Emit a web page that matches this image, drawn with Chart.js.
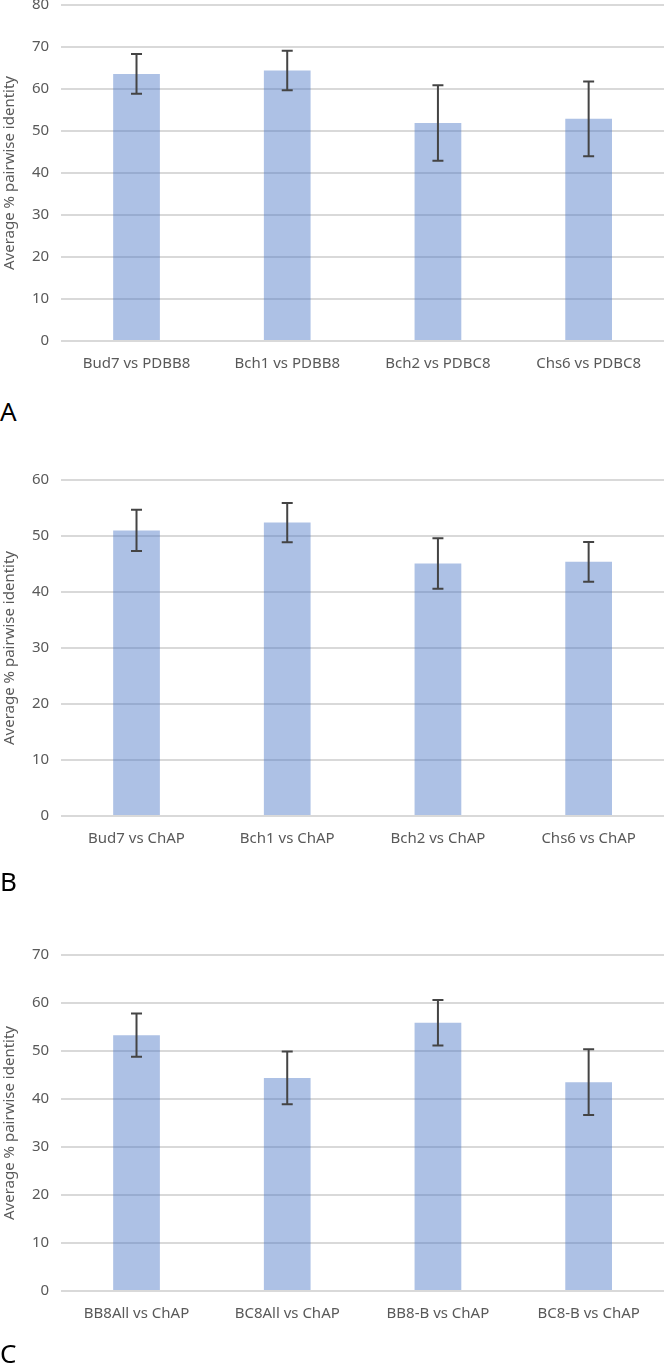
<!DOCTYPE html>
<html>
<head>
<meta charset="utf-8">
<script src="https://cdn.jsdelivr.net/npm/chart.js@4"></script>
<style>
  html, body { margin: 0; padding: 0; background: #fff; }
  body { width: 664px; height: 1365px; position: relative; overflow: hidden; font-family: "Noto Sans", sans-serif; }
  .panel { position: absolute; left: 0; width: 664px; }
  .letter { position: absolute; left: 0; font-size: 26px; line-height: 1; color: #000; }
</style>
</head>
<body>
<div class="panel" style="top:-16px;height:395px"><canvas id="chartA"></canvas></div>
<div class="panel" style="top:459px;height:395px"><canvas id="chartB"></canvas></div>
<div class="panel" style="top:934px;height:395px"><canvas id="chartC"></canvas></div>
<div class="letter" style="top:398px">A</div>
<div class="letter" style="top:868px">B</div>
<div class="letter" style="top:1340px">C</div>
<script>
// panel A
const labelsA = ['Bud7 vs PDBB8', 'Bch1 vs PDBB8', 'Bch2 vs PDBC8', 'Chs6 vs PDBC8']
const valuesA = [63.6, 64.4, 51.9, 52.9]
const errorsA = [4.75, 4.7, 9.0, 8.9]
const yMaxA = 80

// panel B
const labelsB = ['Bud7 vs ChAP', 'Bch1 vs ChAP', 'Bch2 vs ChAP', 'Chs6 vs ChAP']
const valuesB = [51.0, 52.4, 45.1, 45.4]
const errorsB = [3.7, 3.5, 4.5, 3.55]
const yMaxB = 60

// panel C
const labelsC = ['BB8All vs ChAP', 'BC8All vs ChAP', 'BB8-B vs ChAP', 'BC8-B vs ChAP']
const valuesC = [53.3, 44.4, 55.9, 43.5]
const errorsC = [4.5, 5.5, 4.75, 6.85]
const yMaxC = 70

const yTitle = 'Average % pairwise identity'

// draws +/- error whiskers on top of each bar
const errorBars = {
  id: 'errorBars',
  afterDatasetsDraw(chart) {
    const ctx = chart.ctx
    const yScale = chart.scales.y
    const errs = chart.data.datasets[0].errors
    const vals = chart.data.datasets[0].data
    const meta = chart.getDatasetMeta(0)
    ctx.save()
    ctx.strokeStyle = '#444444'
    ctx.lineWidth = 2
    meta.data.forEach(function (bar, i) {
      const top = yScale.getPixelForValue(vals[i] + errs[i])
      const bot = yScale.getPixelForValue(vals[i] - errs[i])
      const x = bar.x
      ctx.beginPath()
      ctx.moveTo(x, top); ctx.lineTo(x, bot)
      ctx.moveTo(x - 5.5, top); ctx.lineTo(x + 5.5, top)
      ctx.moveTo(x - 5.5, bot); ctx.lineTo(x + 5.5, bot)
      ctx.stroke()
    })
    ctx.restore()
  }
}

function makeChart(id, labels, values, errors, yMax) {
  return new Chart(document.getElementById(id), {
    type: 'bar',
    data: {
      labels: labels,
      datasets: [{
        data: values,
        errors: errors,
        backgroundColor: 'rgba(68, 114, 196, 0.44)',
        categoryPercentage: 1,
        barPercentage: 0.31
      }]
    },
    options: {
      responsive: true,
      maintainAspectRatio: false,
      animation: false,
      layout: { padding: 0 },
      plugins: { legend: { display: false }, tooltip: { enabled: false } },
      scales: {
        x: {
          grid: { display: false },
          border: { display: false },
          ticks: { color: '#595959', font: { family: 'Noto Sans', size: 15 }, padding: 6 }
        },
        y: {
          min: 0,
          max: yMax,
          grid: { color: '#d9d9d9', lineWidth: 2, drawTicks: false },
          border: { display: false },
          ticks: { stepSize: 10, color: '#595959', font: { family: 'Noto Sans', size: 15 }, padding: 12 },
          title: { display: true, text: yTitle, color: '#595959', font: { family: 'Noto Sans', size: 15 }, padding: 1 }
        }
      }
    },
    plugins: [errorBars]
  })
}

makeChart('chartA', labelsA, valuesA, errorsA, yMaxA)
makeChart('chartB', labelsB, valuesB, errorsB, yMaxB)
makeChart('chartC', labelsC, valuesC, errorsC, yMaxC)
</script>
</body>
</html>
